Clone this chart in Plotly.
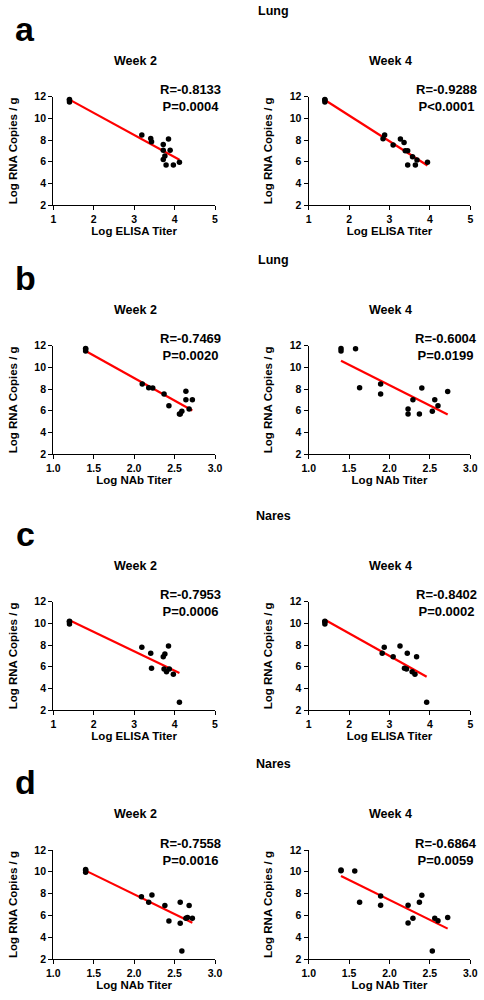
import numpy as np
import plotly.graph_objects as go

# ---------------- data ----------------
a_w2_x = [1.4, 1.4, 1.4, 3.19, 3.41, 3.43, 3.72, 3.85, 3.72, 3.89, 3.76, 3.72, 3.79, 3.97, 4.12]
a_w2_y = [11.75, 11.7, 11.5, 8.46, 8.15, 7.84, 7.58, 8.09, 7.06, 7.06, 6.52, 6.2, 5.69, 5.69, 5.94]

a_w4_x = [1.4, 1.4, 1.4, 2.84, 2.88, 3.09, 3.27, 3.36, 3.39, 3.45, 3.57, 3.68, 3.45, 3.64, 3.94]
a_w4_y = [11.75, 11.7, 11.5, 8.12, 8.46, 7.54, 8.09, 7.78, 7.0, 7.0, 6.46, 6.15, 5.69, 5.69, 5.94]

b_w2_x = [1.4, 1.4, 1.4, 2.10, 2.18, 2.23, 2.37, 2.43, 2.56, 2.59, 2.64, 2.64, 2.72, 2.68, 2.57]
b_w2_y = [11.75, 11.7, 11.5, 8.46, 8.12, 8.1, 7.54, 6.46, 5.69, 5.94, 7.8, 7.0, 7.0, 6.15, 5.69]

b_w4_x = [1.4, 1.4, 1.58, 1.63, 1.89, 1.89, 2.23, 2.23, 2.29, 2.37, 2.40, 2.53, 2.56, 2.60, 2.72]
b_w4_y = [11.75, 11.5, 11.72, 8.12, 8.46, 7.54, 6.15, 5.69, 7.0, 5.69, 8.09, 5.94, 7.0, 6.46, 7.78]

c_w2_x = [1.4, 1.4, 1.4, 3.19, 3.41, 3.43, 3.72, 3.76, 3.85, 3.74, 3.80, 3.87, 3.97, 4.12]
c_w2_y = [10.2, 10.15, 9.95, 7.79, 7.23, 5.85, 6.92, 7.17, 7.91, 5.79, 5.54, 5.79, 5.29, 2.71]

c_w4_x = [1.4, 1.4, 1.4, 2.82, 2.87, 3.09, 3.26, 3.44, 3.67, 3.37, 3.42, 3.56, 3.63, 3.92]
c_w4_y = [10.2, 10.15, 9.95, 7.23, 7.79, 6.92, 7.91, 7.23, 6.92, 5.85, 5.79, 5.54, 5.29, 2.71]

d_w2_x = [1.4, 1.4, 1.4, 2.09, 2.18, 2.22, 2.38, 2.57, 2.68, 2.43, 2.57, 2.64, 2.66, 2.72, 2.59]
d_w2_y = [10.2, 10.15, 9.95, 7.72, 7.2, 7.87, 6.9, 7.2, 6.9, 5.49, 5.28, 5.74, 5.8, 5.74, 2.73]

d_w4_x = [1.4, 1.4, 1.57, 1.63, 1.89, 1.89, 2.23, 2.23, 2.29, 2.37, 2.40, 2.53, 2.56, 2.60, 2.72]
d_w4_y = [10.17, 10.1, 10.07, 7.2, 7.78, 6.92, 6.92, 5.3, 5.73, 7.2, 7.84, 2.73, 5.73, 5.5, 5.8]

stats = {
    "a_w2": "R=-0.8133<br>P=0.0004", "a_w4": "R=-0.9288<br>P<0.0001",
    "b_w2": "R=-0.7469<br>P=0.0020", "b_w4": "R=-0.6004<br>P=0.0199",
    "c_w2": "R=-0.7953<br>P=0.0006", "c_w4": "R=-0.8402<br>P=0.0002",
    "d_w2": "R=-0.7558<br>P=0.0016", "d_w4": "R=-0.6864<br>P=0.0059",
}
row_letters = ["a", "b", "c", "d"]
row_tissue = ["Lung", "Lung", "Nares", "Nares"]
row_xtitle = ["Log ELISA Titer", "Log NAb Titer", "Log ELISA Titer", "Log NAb Titer"]
col_titles = ["Week 2", "Week 4"]
y_title = "Log RNA Copies / g"
elisa_ticks = [1, 2, 3, 4, 5]
nab_ticks = [1.0, 1.5, 2.0, 2.5, 3.0]
y_ticks = [2, 4, 6, 8, 10, 12]

panels = [
    ("a_w2", a_w2_x, a_w2_y), ("a_w4", a_w4_x, a_w4_y),
    ("b_w2", b_w2_x, b_w2_y), ("b_w4", b_w4_x, b_w4_y),
    ("c_w2", c_w2_x, c_w2_y), ("c_w4", c_w4_x, c_w4_y),
    ("d_w2", d_w2_x, d_w2_y), ("d_w4", d_w4_x, d_w4_y),
]

# ---------------- layout geometry (pixels) ----------------
W, H = 484, 1000
col_px = [(53.3, 215.0), (308.7, 470.3)]
row_px = [(96.7, 205.0), (345.7, 454.0), (601.7, 710.0), (850.0, 959.0)]
FONT = "Liberation Sans, Arial, sans-serif"

def px(x):
    return x / W

def py(y):
    return 1 - y / H

fig = go.Figure()
layout = {}
annotations = []

for i, (key, xs, ys) in enumerate(panels):
    r, c = divmod(i, 2)
    n = i + 1
    xa = "x" if n == 1 else f"x{n}"
    ya = "y" if n == 1 else f"y{n}"
    xs_a = np.array(xs)
    ys_a = np.array(ys)
    slope, inter = np.polyfit(xs_a, ys_a, 1)
    lx = np.array([xs_a.min(), xs_a.max()])
    fig.add_trace(go.Scatter(x=lx, y=slope * lx + inter, mode="lines",
                             line=dict(color="#ff0000", width=2.2),
                             xaxis=xa, yaxis=ya, showlegend=False, hoverinfo="skip",
                             cliponaxis=False))
    fig.add_trace(go.Scatter(x=xs, y=ys, mode="markers",
                             marker=dict(color="black", size=5.5),
                             xaxis=xa, yaxis=ya, showlegend=False, cliponaxis=False))
    nab = (r % 2 == 1)
    x0, x1 = col_px[c]
    y0, y1 = row_px[r]
    common = dict(showgrid=False, zeroline=False, showline=True, linecolor="black",
                  linewidth=1.4, ticks="outside", ticklen=4, tickwidth=1.4,
                  tickcolor="black", fixedrange=True, automargin=False,
                  tickfont=dict(family=FONT, size=10.5, color="black", weight="bold"))
    layout["xaxis" if n == 1 else f"xaxis{n}"] = dict(
        domain=[px(x0), px(x1)], anchor=ya,
        range=[1, 3] if nab else [1, 5],
        tickvals=nab_ticks if nab else elisa_ticks,
        ticktext=[f"{v:.1f}" for v in nab_ticks] if nab else [str(v) for v in elisa_ticks],
        title=dict(text=row_xtitle[r], standoff=0,
                   font=dict(family=FONT, size=11.5, color="black", weight="bold")),
        **common)
    layout["yaxis" if n == 1 else f"yaxis{n}"] = dict(
        domain=[py(y1), py(y0)], anchor=xa, range=[2, 12], tickvals=y_ticks,
        title=dict(text=y_title, standoff=14,
                   font=dict(family=FONT, size=11.5, color="black", weight="bold")),
        **common)
    # column title
    annotations.append(dict(text=col_titles[c], x=px((x0 + x1) / 2 + 1), y=py(y0 - 36),
                            xref="paper", yref="paper", xanchor="center", yanchor="middle",
                            showarrow=False,
                            font=dict(family=FONT, size=12.5, color="black", weight="bold")))
    # stats
    sx = 190 if c == 0 else 446
    annotations.append(dict(text=stats[key], x=px(sx), y=py(y0 + 1.7),
                            xref="paper", yref="paper", xanchor="center", yanchor="middle",
                            showarrow=False, align="center",
                            font=dict(family=FONT, size=13, color="black", weight="bold")))

for r in range(4):
    y0 = row_px[r][0]
    annotations.append(dict(text=row_letters[r], x=px(25), y=py(y0 - 68),
                            xref="paper", yref="paper", xanchor="center", yanchor="middle",
                            showarrow=False,
                            font=dict(family=FONT, size=34, color="black", weight="bold")))
    annotations.append(dict(text=row_tissue[r], x=px(273), y=py(y0 - 86),
                            xref="paper", yref="paper", xanchor="center", yanchor="middle",
                            showarrow=False,
                            font=dict(family=FONT, size=12.5, color="black", weight="bold")))

fig.update_layout(template="none", width=W, height=H, margin=dict(l=0, r=0, t=0, b=0),
                  paper_bgcolor="white", plot_bgcolor="white",
                  annotations=annotations, showlegend=False, **layout)

fig.write_html("out.html", config={"displayModeBar": False},
               post_script="document.body.style.margin='0';document.body.style.padding='0';"
                           "document.documentElement.style.overflow='hidden';")
